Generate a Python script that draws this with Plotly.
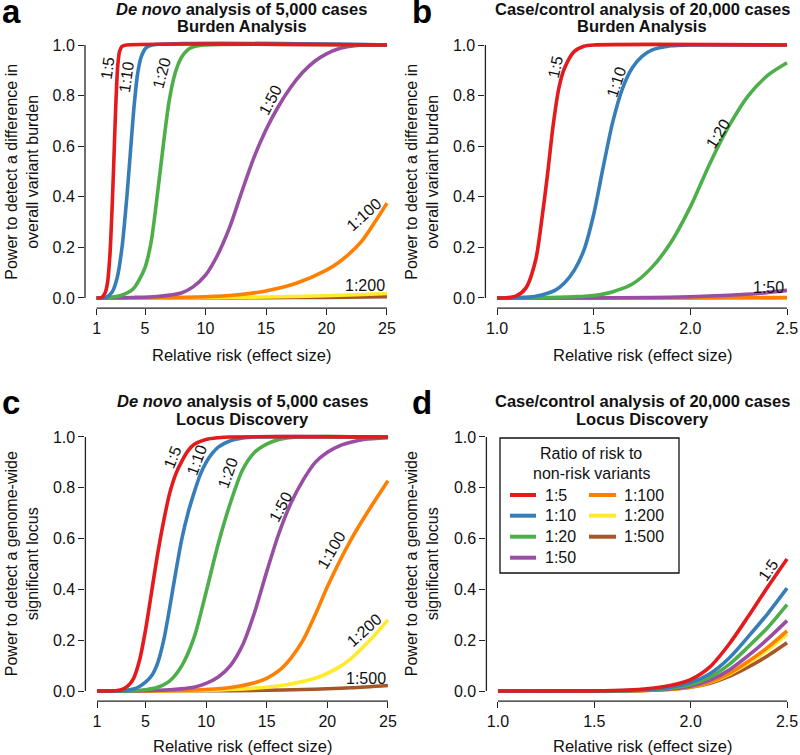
import plotly.graph_objects as go

# ---------------- data ----------------
series_names = ["1:5", "1:10", "1:20", "1:50", "1:100", "1:200", "1:500"]
series_colors = ["#E41A1C", "#377EB8", "#4DAF4A", "#984EA3", "#FF7F00", "#FFEB2A", "#A65628"]

x_ticks_denovo = [1, 5, 10, 15, 20, 25]
x_ticks_cc = [1.0, 1.5, 2.0, 2.5]
x_ticktext_cc = ["1.0", "1.5", "2.0", "2.5"]
y_ticks = [0, 0.2, 0.4, 0.6, 0.8, 1.0]
y_ticktext = ["0.0", "0.2", "0.4", "0.6", "0.8", "1.0"]

# Panel a: De novo, burden
a_x_15 = [1, 1.4, 1.7, 1.9, 2.1, 2.3, 2.45, 2.6, 2.75, 2.9, 3.1, 3.5, 25]
a_y_15 = [0, 0.002, 0.02, 0.06, 0.17, 0.38, 0.58, 0.78, 0.92, 0.975, 0.995, 1.0, 1.0]
a_x_110 = [1, 1.8, 2.3, 2.7, 3.1, 3.5, 3.8, 4.1, 4.4, 4.7, 5.1, 5.6, 25]
a_y_110 = [0, 0.003, 0.025, 0.08, 0.2, 0.4, 0.58, 0.76, 0.89, 0.955, 0.99, 1.0, 1.0]
a_x_120 = [1, 2, 3, 4, 4.5, 5, 5.5, 6, 6.5, 7, 7.5, 8, 8.5, 9, 10, 25]
a_y_120 = [0, 0.002, 0.01, 0.035, 0.07, 0.12, 0.22, 0.4, 0.6, 0.78, 0.89, 0.95, 0.98, 0.993, 1.0, 1.0]
a_x_150 = [1, 4, 6, 8, 9, 10, 11, 12, 13, 14, 15, 16, 17, 18, 19, 20, 21, 22, 23, 25]
a_y_150 = [0, 0.002, 0.006, 0.02, 0.045, 0.09, 0.17, 0.28, 0.42, 0.555, 0.665, 0.755, 0.83, 0.89, 0.935, 0.965, 0.985, 0.995, 1.0, 1.0]
a_x_1100 = [1, 5, 10, 12.5, 15, 17.5, 20, 21, 22, 23, 24, 25]
a_y_1100 = [0, 0.001, 0.005, 0.012, 0.028, 0.058, 0.11, 0.14, 0.18, 0.23, 0.3, 0.375]
a_x_1200 = [1, 10, 15, 20, 22.5, 25]
a_y_1200 = [0, 0.001, 0.004, 0.009, 0.013, 0.018]
a_x_1500 = [1, 10, 15, 20, 25]
a_y_1500 = [0, 0.0003, 0.001, 0.0025, 0.005]

# Panel b: case/control, burden
b_x_15 = [1.0, 1.05, 1.1, 1.15, 1.2, 1.23, 1.26, 1.29, 1.32, 1.35, 1.4, 1.45, 1.5, 2.5]
b_y_15 = [0, 0.001, 0.008, 0.04, 0.15, 0.3, 0.48, 0.68, 0.83, 0.91, 0.975, 0.995, 1.0, 1.0]
b_x_110 = [1.0, 1.1, 1.2, 1.3, 1.35, 1.4, 1.45, 1.5, 1.55, 1.6, 1.65, 1.7, 1.75, 1.8, 1.9, 2.0, 2.5]
b_y_110 = [0, 0.001, 0.007, 0.03, 0.06, 0.11, 0.19, 0.33, 0.52, 0.7, 0.83, 0.91, 0.955, 0.98, 0.997, 1.0, 1.0]
b_x_120 = [1.0, 1.2, 1.4, 1.5, 1.6, 1.7, 1.8, 1.9, 2.0, 2.1, 2.2, 2.3, 2.4, 2.5]
b_y_120 = [0, 0.001, 0.005, 0.01, 0.025, 0.055, 0.12, 0.22, 0.36, 0.53, 0.68, 0.8, 0.88, 0.93]
b_x_150 = [1.0, 1.5, 1.8, 2.0, 2.2, 2.35, 2.5]
b_y_150 = [0, 0.0005, 0.002, 0.005, 0.011, 0.018, 0.03]
b_x_1100 = [1.0, 2.0, 2.5]
b_y_1100 = [0, 0.0005, 0.002]
b_x_1200 = [1.0, 2.5]
b_y_1200 = [0, 0.0003]
b_x_1500 = [1.0, 2.5]
b_y_1500 = [0, 0.0001]

# Panel c: De novo, locus discovery
c_x_15 = [1, 2.5, 3, 3.5, 4, 4.5, 5, 5.5, 6, 6.5, 7, 7.5, 8, 8.5, 9, 10, 11, 12, 25]
c_y_15 = [0, 0.001, 0.005, 0.018, 0.048, 0.12, 0.24, 0.39, 0.54, 0.67, 0.78, 0.855, 0.905, 0.945, 0.97, 0.99, 0.997, 1.0, 1.0]
c_x_110 = [1, 3, 4, 4.5, 5, 5.5, 6, 6.5, 7, 7.5, 8, 8.5, 9, 9.5, 10, 10.5, 11, 12, 13, 14, 25]
c_y_110 = [0, 0.001, 0.008, 0.018, 0.035, 0.06, 0.11, 0.2, 0.33, 0.47, 0.6, 0.7, 0.78, 0.85, 0.9, 0.935, 0.96, 0.985, 0.996, 1.0, 1.0]
c_x_120 = [1, 4, 5, 6, 7, 8, 9, 10, 11, 12, 13, 14, 15, 16, 17.5, 25]
c_y_120 = [0, 0.001, 0.005, 0.015, 0.04, 0.1, 0.21, 0.39, 0.58, 0.74, 0.87, 0.94, 0.972, 0.99, 1.0, 1.0]
c_x_150 = [1, 5, 7, 9, 10, 11, 12, 13, 14, 15, 16, 17, 18, 19, 20, 21, 22, 23, 25]
c_y_150 = [0, 0.001, 0.005, 0.015, 0.03, 0.055, 0.1, 0.18, 0.31, 0.47, 0.62, 0.74, 0.83, 0.9, 0.94, 0.965, 0.98, 0.99, 0.997]
c_x_1100 = [1, 8, 10, 12, 14, 15, 16, 17, 18, 19, 20, 21, 22, 23, 24, 25]
c_y_1100 = [0, 0.002, 0.006, 0.014, 0.033, 0.05, 0.08, 0.13, 0.2, 0.3, 0.41, 0.51, 0.6, 0.68, 0.755, 0.828]
c_x_1200 = [1, 8, 12, 15, 17, 19, 20, 21, 22, 23, 24, 25]
c_y_1200 = [0, 0.001, 0.006, 0.015, 0.028, 0.05, 0.07, 0.095, 0.13, 0.175, 0.225, 0.28]
c_x_1500 = [1, 10, 15, 18, 20, 22, 25]
c_y_1500 = [0, 0.001, 0.003, 0.006, 0.009, 0.013, 0.022]

# Panel d: case/control, locus discovery
d_x = [1.0, 1.5, 1.6, 1.7, 1.8, 1.9, 2.0, 2.1, 2.2, 2.3, 2.4, 2.5]
d_y_15 = [0, 0.0005, 0.002, 0.005, 0.011, 0.023, 0.045, 0.095, 0.185, 0.295, 0.41, 0.52]
d_y_110 = [0, 0.0003, 0.001, 0.003, 0.007, 0.016, 0.033, 0.068, 0.13, 0.215, 0.305, 0.405]
d_y_120 = [0, 0.0002, 0.0008, 0.002, 0.005, 0.012, 0.026, 0.055, 0.105, 0.175, 0.25, 0.34]
d_y_150 = [0, 0.0001, 0.0005, 0.0015, 0.004, 0.009, 0.02, 0.043, 0.083, 0.14, 0.205, 0.277]
d_y_1100 = [0, 0, 0.0003, 0.001, 0.003, 0.007, 0.016, 0.035, 0.069, 0.117, 0.172, 0.237]
d_y_1200 = [0, 0, 0.0003, 0.001, 0.003, 0.007, 0.016, 0.034, 0.066, 0.11, 0.162, 0.224]
d_y_1500 = [0, 0, 0.0003, 0.001, 0.003, 0.007, 0.015, 0.031, 0.058, 0.095, 0.139, 0.19]

# curve labels: (text, x, y, angle)
a_labels = [("1:5", 1.87, 0.909, -82), ("1:10", 3.5, 0.874, -82), ("1:20", 6.35, 0.889, -75),
            ("1:50", 15.4, 0.783, -62), ("1:100", 23.1, 0.33, -42), ("1:200", 23.19, 0.051, 0)]
b_labels = [("1:5", 1.30, 0.913, -78), ("1:10", 1.62, 0.854, -72), ("1:20", 2.143, 0.652, -58),
            ("1:50", 2.402, 0.043, 0)]
c_labels = [("1:5", 7.2, 0.921, -68), ("1:10", 9.2, 0.909, -70), ("1:20", 11.75, 0.858, -70),
            ("1:50", 16.1, 0.724, -62), ("1:100", 20.3, 0.555, -60), ("1:200", 23.0, 0.24, -42),
            ("1:500", 23.2, 0.051, 0)]
d_labels = [("1:5", 2.40, 0.476, -55)]

# ---------------- figure ----------------
FONT = "Liberation Sans, Arial, Helvetica, sans-serif"
W, H = 800, 755
TXT = 16.5   # titles
AXT = 16     # axis titles
SMALL = 16   # ticks, curve labels, legend
fig = go.Figure()

panels = [
    ("x", "y", [(a_x_15, a_y_15), (a_x_110, a_y_110), (a_x_120, a_y_120), (a_x_150, a_y_150),
                (a_x_1100, a_y_1100), (a_x_1200, a_y_1200), (a_x_1500, a_y_1500)]),
    ("x2", "y2", [(b_x_15, b_y_15), (b_x_110, b_y_110), (b_x_120, b_y_120), (b_x_150, b_y_150),
                  (b_x_1100, b_y_1100), (b_x_1200, b_y_1200), (b_x_1500, b_y_1500)]),
    ("x3", "y3", [(c_x_15, c_y_15), (c_x_110, c_y_110), (c_x_120, c_y_120), (c_x_150, c_y_150),
                  (c_x_1100, c_y_1100), (c_x_1200, c_y_1200), (c_x_1500, c_y_1500)]),
    ("x4", "y4", [(d_x, d_y_15), (d_x, d_y_110), (d_x, d_y_120), (d_x, d_y_150),
                  (d_x, d_y_1100), (d_x, d_y_1200), (d_x, d_y_1500)]),
]

for xa, ya, curves in panels:
    for i in reversed(range(len(curves))):
        xs, ys = curves[i]
        fig.add_trace(go.Scatter(
            x=xs, y=ys, xaxis=xa, yaxis=ya, mode="lines",
            line=dict(color=series_colors[i], width=3.6, shape="spline", smoothing=0.8),
            name=series_names[i], showlegend=False, hoverinfo="skip"))

def px_x(p):
    return p / W

def px_y(p):
    return 1 - p / H

xdom = {"x": [85.0 / W, 398.6 / W], "x2": [485.4 / W, 798.6 / W],
        "x3": [85.4 / W, 399.6 / W], "x4": [486.4 / W, 798.6 / W]}
ydom_top = [px_y(308.1), px_y(34.9)]
ydom_bot = [px_y(701.2), px_y(426.8)]

tickfont = dict(family=FONT, size=SMALL, color="#111")
common_x = dict(showgrid=False, zeroline=False, showline=False, ticks="outside", ticklen=6,
                tickwidth=1.2, tickcolor="#222", tickfont=tickfont, fixedrange=True)
common_y = dict(common_x, range=[-0.04, 1.04], tickvals=y_ticks, ticktext=y_ticktext)

layout_axes = {}
for k, (xa, ya) in enumerate([("x", "y"), ("x2", "y2"), ("x3", "y3"), ("x4", "y4")]):
    xname = "xaxis" if xa == "x" else "xaxis" + xa[1:]
    yname = "yaxis" if ya == "y" else "yaxis" + ya[1:]
    if k in (0, 2):
        xr = [1 - 0.04 * 24, 25 + 0.04 * 24]
        xt = dict(tickvals=x_ticks_denovo, ticktext=[str(v) for v in x_ticks_denovo])
    else:
        xr = [1 - 0.04 * 1.5, 2.5 + 0.04 * 1.5]
        xt = dict(tickvals=x_ticks_cc, ticktext=x_ticktext_cc)
    layout_axes[xname] = dict(common_x, domain=xdom[xa], range=xr, anchor=ya, **xt)
    layout_axes[yname] = dict(common_y, domain=ydom_top if k < 2 else ydom_bot, anchor=xa)

fig.update_layout(**layout_axes)

shapes = []
# detached R-style axis lines
for k, (xa, ya) in enumerate([("x", "y"), ("x2", "y2"), ("x3", "y3"), ("x4", "y4")]):
    x0, x1 = (1, 25) if k in (0, 2) else (1.0, 2.5)
    shapes.append(dict(type="line", xref=xa, yref=ya + " domain", x0=x0, x1=x1, y0=0, y1=0,
                       line=dict(color="#222", width=1.3)))
    shapes.append(dict(type="line", xref=xa + " domain", yref=ya, x0=0, x1=0, y0=0, y1=1,
                       line=dict(color="#222", width=1.3)))

annotations = []
# curve labels
for (xa, ya), labs in zip([("x", "y"), ("x2", "y2"), ("x3", "y3"), ("x4", "y4")],
                          [a_labels, b_labels, c_labels, d_labels]):
    for t, lx, ly, ang in labs:
        annotations.append(dict(text=t, x=lx, y=ly, xref=xa, yref=ya, showarrow=False,
                                textangle=ang, font=dict(family=FONT, size=SMALL, color="#111")))

# panel titles
titles = [
    ("x", "<i>De novo</i> analysis of 5,000 cases", "Burden Analysis", 9.3, 25.6),
    ("x2", "Case/control analysis of 20,000 cases", "Burden Analysis", 9.3, 25.6),
    ("x3", "<i>De novo</i> analysis of 5,000 cases", "Locus Discovery", 401.0, 418.6),
    ("x4", "Case/control analysis of 20,000 cases", "Locus Discovery", 401.0, 418.6),
]
for xa, l1, l2, y1, y2 in titles:
    for txt, yy in ((l1, y1), (l2, y2)):
        annotations.append(dict(text="<b>" + txt + "</b>", xref=xa + " domain", x=0.5, yref="paper",
                                y=px_y(yy), xanchor="center", yanchor="middle", showarrow=False,
                                font=dict(family=FONT, size=TXT, color="#111")))

# panel letters
for letter, lx, ly in (("a", 0, 12.0), ("b", 410, 12.0), ("c", 0, 402.0), ("d", 410, 402.0)):
    annotations.append(dict(text="<b>" + letter + "</b>", xref="paper", yref="paper", x=px_x(lx),
                            y=px_y(ly), xanchor="left", yanchor="middle", showarrow=False,
                            font=dict(family=FONT, size=33, color="#000")))

# x-axis titles
for xa, yy in (("x", 355), ("x2", 355), ("x3", 746), ("x4", 746)):
    annotations.append(dict(text="Relative risk (effect size)", xref=xa + " domain", x=0.5,
                            yref="paper", y=px_y(yy), xanchor="center", yanchor="middle",
                            showarrow=False, font=dict(family=FONT, size=TXT, color="#111")))

# y-axis titles (two lines each)
ytitles = [
    ("y", 0, "Power to detect a difference in", "overall variant burden"),
    ("y2", 400, "Power to detect a difference in", "overall variant burden"),
    ("y3", 0, "Power to detect a genome-wide", "significant locus"),
    ("y4", 400, "Power to detect a genome-wide", "significant locus"),
]
for ya, off, l1, l2 in ytitles:
    for txt, xx in ((l1, off + 11.2), (l2, off + 32.3)):
        annotations.append(dict(text=txt, xref="paper", x=px_x(xx), yref=ya + " domain", y=0.5,
                                xanchor="center", yanchor="middle", textangle=-90, showarrow=False,
                                font=dict(family=FONT, size=AXT, color="#111")))

# legend box in panel d (drawn manually, R style)
shapes.append(dict(type="rect", xref="paper", yref="paper", x0=px_x(500), x1=px_x(679),
                   y0=px_y(573), y1=px_y(438), line=dict(color="#111", width=1.3),
                   fillcolor="white", layer="above"))
annotations.append(dict(text="Ratio of risk to", xref="paper", yref="paper", x=px_x(591),
                        y=px_y(453), showarrow=False, xanchor="center", yanchor="middle",
                        font=dict(family=FONT, size=AXT, color="#111")))
annotations.append(dict(text="non-risk variants", xref="paper", yref="paper", x=px_x(591),
                        y=px_y(473), showarrow=False, xanchor="center", yanchor="middle",
                        font=dict(family=FONT, size=AXT, color="#111")))
rows = [495, 515.7, 536.7, 557.7]
for i, name in enumerate(series_names):
    col = 0 if i < 4 else 1
    row = i if i < 4 else i - 4
    lx0, lx1, tx = (510, 536, 543) if col == 0 else (589, 616, 622)
    yy = rows[row]
    shapes.append(dict(type="line", xref="paper", yref="paper", x0=px_x(lx0), x1=px_x(lx1),
                       y0=px_y(yy), y1=px_y(yy), line=dict(color=series_colors[i], width=4),
                       layer="above"))
    annotations.append(dict(text=name, xref="paper", yref="paper", x=px_x(tx), y=px_y(yy),
                            xanchor="left", yanchor="middle", showarrow=False,
                            font=dict(family=FONT, size=SMALL, color="#111")))

fig.update_layout(width=W, height=H, margin=dict(l=0, r=0, t=0, b=0),
                  paper_bgcolor="white", plot_bgcolor="white", showlegend=False,
                  shapes=shapes, annotations=annotations,
                  font=dict(family=FONT, size=SMALL, color="#111"))

fig.write_html("out.html", config={"displayModeBar": False},
               post_script="document.body.style.margin='0px';document.body.style.overflow='hidden';")
